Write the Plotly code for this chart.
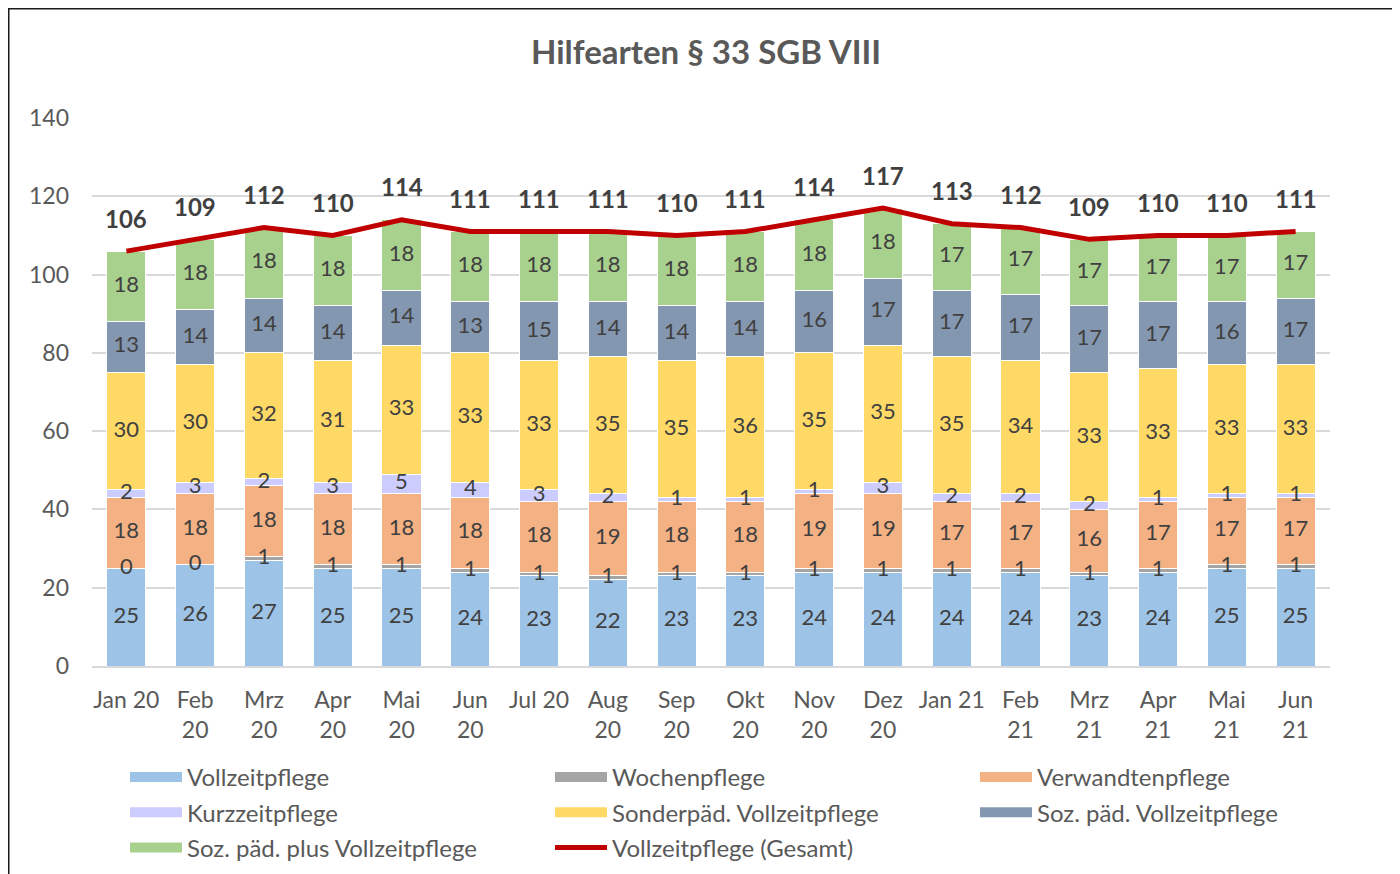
import plotly.graph_objects as go
import numpy as np

categories = ["Jan 20", "Feb 20", "Mrz 20", "Apr 20", "Mai 20", "Jun 20", "Jul 20", "Aug 20", "Sep 20",
              "Okt 20", "Nov 20", "Dez 20", "Jan 21", "Feb 21", "Mrz 21", "Apr 21", "Mai 21", "Jun 21"]
tick_labels = ["Jan 20", "Feb<br>20", "Mrz<br>20", "Apr<br>20", "Mai<br>20", "Jun<br>20", "Jul 20", "Aug<br>20",
               "Sep<br>20", "Okt<br>20", "Nov<br>20", "Dez<br>20", "Jan 21", "Feb<br>21", "Mrz<br>21", "Apr<br>21",
               "Mai<br>21", "Jun<br>21"]

vollzeitpflege = [25, 26, 27, 25, 25, 24, 23, 22, 23, 23, 24, 24, 24, 24, 23, 24, 25, 25]
wochenpflege = [0, 0, 1, 1, 1, 1, 1, 1, 1, 1, 1, 1, 1, 1, 1, 1, 1, 1]
verwandtenpflege = [18, 18, 18, 18, 18, 18, 18, 19, 18, 18, 19, 19, 17, 17, 16, 17, 17, 17]
kurzzeitpflege = [2, 3, 2, 3, 5, 4, 3, 2, 1, 1, 1, 3, 2, 2, 2, 1, 1, 1]
sonderpaed = [30, 30, 32, 31, 33, 33, 33, 35, 35, 36, 35, 35, 35, 34, 33, 33, 33, 33]
sozpaed = [13, 14, 14, 14, 14, 13, 15, 14, 14, 14, 16, 17, 17, 17, 17, 17, 16, 17]
sozpaed_plus = [18, 18, 18, 18, 18, 18, 18, 18, 18, 18, 18, 18, 17, 17, 17, 17, 17, 17]
gesamt = [106, 109, 112, 110, 114, 111, 111, 111, 110, 111, 114, 117, 113, 112, 109, 110, 110, 111]

# (name, values, colour, legend column)
series = [
    ("Vollzeitpflege", vollzeitpflege, "#9DC3E6", "legend"),
    ("Wochenpflege", wochenpflege, "#A5A5A5", "legend2"),
    ("Verwandtenpflege", verwandtenpflege, "#F4B183", "legend3"),
    ("Kurzzeitpflege", kurzzeitpflege, "#CCCCFF", "legend"),
    ("Sonderpäd. Vollzeitpflege", sonderpaed, "#FFD966", "legend2"),
    ("Soz. päd. Vollzeitpflege", sozpaed, "#8497B0", "legend3"),
    ("Soz. päd. plus Vollzeitpflege", sozpaed_plus, "#A9D18E", "legend"),
]

FONT = "Lato, Calibri, Carlito, sans-serif"
TXT = "#404040"
AX = "#595959"

fig = go.Figure()
base = np.zeros(len(categories))
label_traces = []
for name, vals, color, lg in series:
    v = np.array(vals, dtype=float)
    fig.add_trace(go.Bar(
        name=name, x=categories, y=vals, marker=dict(color=color, line=dict(color="white", width=1)),
        hoverinfo="name+y", showlegend=False,
    ))
    label_traces.append(go.Scatter(
        x=categories, y=base + v / 2, mode="text", text=[str(x) for x in vals],
        textposition="middle center", textfont=dict(family=FONT, size=22, color=TXT),
        showlegend=False, hoverinfo="skip",
    ))
    base = base + v

fig.add_trace(go.Scatter(
    name="Vollzeitpflege (Gesamt)", x=categories, y=gesamt, mode="lines",
    line=dict(color="#C00000", width=5), hoverinfo="name+y", showlegend=False,
))
for t in label_traces:
    fig.add_trace(t)

# legend entries (wide colour swatches)
for i, (name, vals, color, lg) in enumerate(series):
    fig.add_trace(go.Scatter(name=name, x=[None], y=[None], mode="lines",
                             line=dict(color=color, width=12), legend=lg, legendgroup=f"g{i}",
                             hoverinfo="skip"))
fig.add_trace(go.Scatter(name="Vollzeitpflege (Gesamt)", x=[None], y=[None], mode="lines",
                         line=dict(color="#C00000", width=5), legend="legend2", legendgroup="g7",
                         hoverinfo="skip"))

for c, g in zip(categories, gesamt):
    fig.add_annotation(x=c, y=g, text=f"<b>{g}</b>", showarrow=False, yshift=33, yanchor="middle",
                       font=dict(family=FONT, size=24, color=TXT))

# page has an 8px body margin: screen coords = figure coords + 8
OFF = 8
W, H = 1400, 874
L, T = 92 - OFF, 118 - OFF
R, B = W - (1330 - OFF), H - (666 - OFF)
PW, PH = W - L - R, H - T - B


def px_x(sx):
    return (sx - OFF - L) / PW


def px_y(sy):
    return (H - B - (sy - OFF)) / PH


fig.add_shape(type="rect", xref="paper", yref="paper",
              x0=px_x(8.75), x1=px_x(1420), y0=px_y(900), y1=px_y(8.75),
              line=dict(color="#1a1a1a", width=1.5), fillcolor="rgba(0,0,0,0)", layer="below")


def leg(sx):
    return dict(orientation="v", x=px_x(sx), xanchor="left", y=px_y(755), yanchor="top",
                traceorder="grouped", tracegroupgap=1, bgcolor="rgba(0,0,0,0)",
                font=dict(family=FONT, size=24, color=AX), itemwidth=52)


fig.update_layout(
    barmode="stack",
    bargap=0.43,
    width=W, height=H,
    margin=dict(l=L, r=R, t=T, b=B, autoexpand=False),
    paper_bgcolor="white", plot_bgcolor="white",
    font=dict(family=FONT, color=AX),
    title=dict(text="<b>Hilfearten § 33 SGB VIII</b>", x=(706 - OFF) / W, xanchor="center",
               y=1 - (52 - OFF) / H, yanchor="middle", font=dict(family=FONT, size=33, color=AX)),
    xaxis=dict(tickmode="array", tickvals=categories, ticktext=tick_labels, range=[-0.5, 17.5],
               tickfont=dict(family=FONT, size=23, color=AX), showgrid=False,
               showline=True, linecolor="#D9D9D9", linewidth=1.5, ticks="", ticklabelstandoff=13),
    yaxis=dict(range=[0, 140], dtick=20, tickfont=dict(family=FONT, size=23, color=AX),
               showgrid=True, gridcolor="#D9D9D9", gridwidth=1.5, zeroline=False, ticks="",
               ticklabelstandoff=22),
    legend=leg(125),
    legend2=leg(550),
    legend3=leg(975),
    showlegend=True,
)

fig.write_html("out.html")
